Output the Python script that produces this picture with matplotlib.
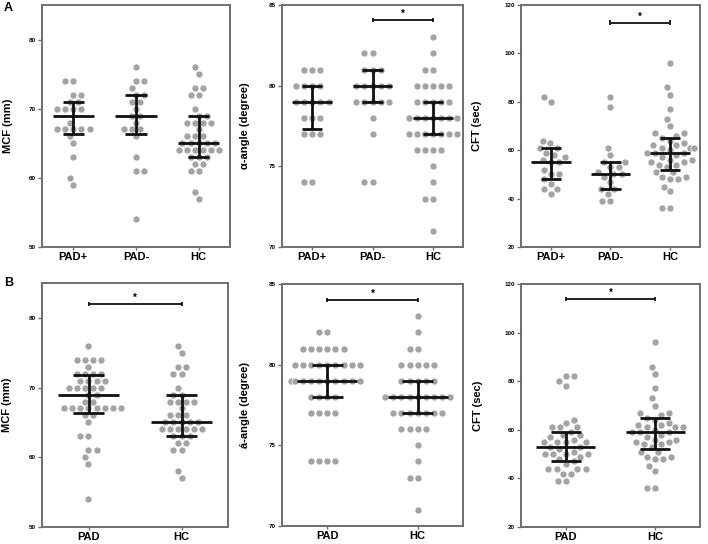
import matplotlib
matplotlib.use("Agg")
import matplotlib.pyplot as plt
import seaborn as sns

plt.rcParams['font.family'] = ['Liberation Sans', 'DejaVu Sans']

# --- data ---
groups_a = ['PAD+', 'PAD-', 'HC']
groups_b = ['PAD', 'HC']

mcf_pad_plus = [74, 74, 72, 72, 71, 71, 70, 70, 70, 70, 68, 67, 67, 67, 67, 67, 66, 65, 63, 60, 59]
mcf_pad_minus = [76, 74, 74, 73, 72, 72, 71, 71, 70, 69, 69, 68, 67, 67, 67, 66, 63, 61, 61, 54]
mcf_hc = [76, 75, 73, 73, 72, 72, 70, 69, 69, 68, 68, 68, 68, 67, 66, 66, 66, 65, 65, 65, 65, 65,
          64, 64, 64, 64, 64, 64, 63, 63, 63, 62, 62, 61, 61, 58, 57]

ang_pad_plus = [81, 81, 81, 80, 80, 80, 80, 79, 79, 79, 79, 79, 78, 78, 78, 77, 77, 77, 74, 74]
ang_pad_minus = [82, 82, 81, 81, 81, 80, 80, 80, 80, 80, 79, 79, 79, 79, 79, 78, 77, 74, 74]
ang_hc = [83, 82, 81, 81, 80, 80, 80, 80, 80, 79, 79, 79, 79, 79, 78, 78, 78, 78, 78, 78, 78, 78, 78,
          77, 77, 77, 77, 77, 77, 77, 76, 76, 76, 76, 75, 74, 73, 73, 71]

cft_pad_plus = [82, 80, 64, 63, 61, 61, 59, 58, 57, 56, 55, 55, 52, 50, 50, 48, 46, 44, 44, 42]
cft_pad_minus = [82, 78, 61, 58, 55, 55, 53, 53, 51, 50, 50, 49, 47, 44, 44, 42, 39, 39]
cft_hc = [96, 86, 83, 77, 73, 70, 67, 67, 66, 65, 64, 63, 62, 62, 61, 61, 61, 60, 59, 59, 59, 58,
          57, 56, 56, 55, 55, 54, 54, 53, 51, 51, 49, 49, 48, 48, 45, 43, 36, 36]

# median and interquartile range as drawn
mcf_a_med, mcf_a_q1, mcf_a_q3 = [69, 69, 65], [66.3, 66.3, 63], [71, 72, 69]
ang_a_med, ang_a_q1, ang_a_q3 = [79, 80, 78], [77.3, 79, 77], [80, 81, 79]
cft_a_med, cft_a_q1, cft_a_q3 = [55, 50, 59], [48, 44, 52], [61, 55, 65]
mcf_b_med, mcf_b_q1, mcf_b_q3 = [69, 65], [66.3, 63], [71.8, 69]
ang_b_med, ang_b_q1, ang_b_q3 = [79, 78], [78, 77], [80, 79]
cft_b_med, cft_b_q1, cft_b_q3 = [53, 59], [47, 52], [59, 65]

DOT = '#a3a3a3'
FRAME = '#6e6e6e'

fig = plt.figure(figsize=(7.08, 5.44), dpi=100)


def panel(rect, groups, series, med, q1, q3, ylim, yticks, ylabel, label_x, sig):
    ax = fig.add_axes(rect)
    xs, ys = [], []
    for g, vals in zip(groups, series):
        xs += [g] * len(vals)
        ys += vals
    # thin white edge keeps a small gap between the dots, like the original
    sns.swarmplot(x=xs, y=ys, order=groups, color=DOT, size=5.1, linewidth=0.5,
                  edgecolor='white', ax=ax, zorder=2)
    for i in range(len(groups)):
        ax.hlines(med[i], i - 0.33, i + 0.33, color='#111111', lw=2.0, zorder=4)
        ax.vlines(i, q1[i], q3[i], color='#111111', lw=2.0, zorder=4)
        ax.hlines([q1[i], q3[i]], i - 0.17, i + 0.17, color='#111111', lw=2.0, zorder=4)
    if sig is not None:
        x1, x2, y = sig
        h = (ylim[1] - ylim[0]) * 0.009
        ax.hlines(y, x1, x2, color='#111111', lw=1.3)
        ax.vlines([x1, x2], y - h, y + h, color='#111111', lw=1.3)
        ax.text((x1 + x2) / 2, y + h * 0.6, '*', ha='center', va='bottom',
                fontsize=7, fontweight='bold')
    ax.set_xlim(-0.5, len(groups) - 0.5)
    ax.set_ylim(*ylim)
    ax.set_yticks(yticks)
    ax.set_yticklabels([str(t) for t in yticks], fontsize=4.5, fontweight='bold')
    ax.set_xticks(range(len(groups)))
    ax.set_xticklabels(groups, fontsize=8, fontweight='bold')
    ax.tick_params(axis='y', length=3, width=1, color=FRAME, pad=1.5)
    ax.tick_params(axis='x', length=2, width=1, color=FRAME, pad=1.5)
    for s in ax.spines.values():
        s.set_color(FRAME)
        s.set_linewidth(1.4)
    ax.set_ylabel(ylabel, fontsize=8, fontweight='bold')
    ax.yaxis.set_label_coords(label_x, 0.5)
    ax.set_xlabel('')
    return ax


W, H = 708, 544


def rect(l, t, r, b):
    return [l / W, 1 - b / H, (r - l) / W, (b - t) / H]


# row A
panel(rect(42, 5, 230, 247), groups_a, [mcf_pad_plus, mcf_pad_minus, mcf_hc],
      mcf_a_med, mcf_a_q1, mcf_a_q3, (50, 85), [50, 60, 70, 80], 'MCF (mm)', -0.155, None)
panel(rect(282, 5, 463, 247), groups_a, [ang_pad_plus, ang_pad_minus, ang_hc],
      ang_a_med, ang_a_q1, ang_a_q3, (70, 85), [70, 75, 80, 85], 'α-angle (degree)', -0.175, (1, 2, 84.07))
panel(rect(521, 5, 700, 247), groups_a, [cft_pad_plus, cft_pad_minus, cft_hc],
      cft_a_med, cft_a_q1, cft_a_q3, (20, 120), [20, 40, 60, 80, 100, 120], 'CFT (sec)', -0.22, (1, 2, 112.7))

# row B: PAD = PAD+ together with PAD-
mcf_pad = mcf_pad_plus + mcf_pad_minus
ang_pad = ang_pad_plus + ang_pad_minus
cft_pad = cft_pad_plus + cft_pad_minus

panel(rect(42, 283, 228, 527), groups_b, [mcf_pad, mcf_hc],
      mcf_b_med, mcf_b_q1, mcf_b_q3, (50, 85), [50, 60, 70, 80], 'MCF (mm)', -0.16, (0, 1, 82))
panel(rect(282, 284, 463, 526), groups_b, [ang_pad, ang_hc],
      ang_b_med, ang_b_q1, ang_b_q3, (70, 85), [70, 75, 80, 85], 'á-angle (degree)', -0.175, (0, 1, 84))
panel(rect(521, 284, 700, 527), groups_b, [cft_pad, cft_hc],
      cft_b_med, cft_b_q1, cft_b_q3, (20, 120), [20, 40, 60, 80, 100, 120], 'CFT (sec)', -0.21, (0, 1, 113.7))

fig.text(4 / W, 1 - 8 / H, 'A', fontsize=9, fontweight='bold', va='center', ha='left')
fig.text(4 / W, 1 - 283 / H, 'B', fontsize=9, fontweight='bold', va='center', ha='left')

fig.savefig('out.png', dpi=100)
